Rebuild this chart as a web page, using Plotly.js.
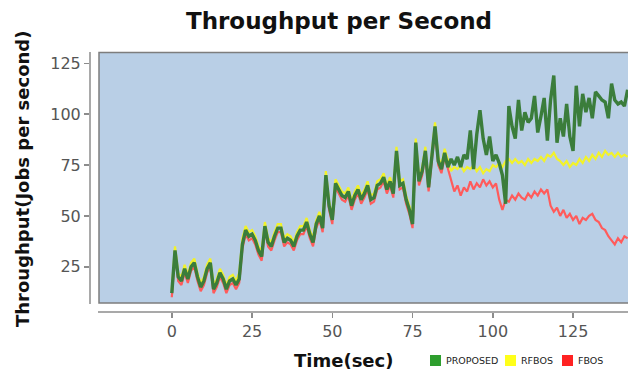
<!DOCTYPE html>
<html>
<head>
<meta charset="utf-8">
<script src="https://cdn.plot.ly/plotly-3.0.1.min.js"></script>
<style>html,body{margin:0;padding:0;background:#fff;}#chart{width:628px;height:371px;}</style>
</head>
<body>
<div id="chart"></div>
<script>
// ---- data ----
const seriesNames = ["PROPOSED", "RFBOS", "FBOS"];
const timeSec = [];
for (let t = 0; t <= 142; t++) timeSec.push(t);

const proposed = [
  12,33,20,18,24,19,25,27,20,15,
  18,24,27,14,17,22,19,14,18,19,
  16,19,36,43,40,41,38,33,30,45,
  37,35,40,44,44,37,39,38,35,40,
  43,43,47,41,37,46,50,44,70,55,
  48,66,63,60,59,62,55,60,63,58,
  61,65,58,59,65,66,69,63,67,61,
  82,65,66,58,53,46,86,67,72,82,
  64,78,94,77,73,81,74,78,75,79,
  74,80,78,92,73,90,102,88,80,89,
  77,80,76,70,56,104,94,88,107,92,
  101,96,98,109,91,99,108,87,107,119,
  86,98,89,105,89,82,114,94,110,101,
  108,98,111,109,107,106,98,115,107,105,
  106,104,112
];
const rfbos = [
  14,35,22,20,26,21,27,29,22,17,
  20,26,29,16,19,24,21,16,20,21,
  18,22,39,45,42,43,40,35,33,47,
  39,37,42,46,46,39,41,40,37,42,
  45,45,49,43,39,48,52,47,72,57,
  50,68,65,62,61,64,57,62,65,60,
  63,67,60,61,67,68,71,65,69,63,
  84,67,68,60,55,49,88,69,74,84,
  66,80,96,79,75,83,77,72,74,73,
  75,72,74,73,75,72,74,71,73,72,
  75,74,76,74,77,78,76,78,76,77,
  75,78,76,78,77,79,77,80,79,81,
  78,77,75,77,74,76,75,78,76,79,
  77,80,78,81,79,82,80,81,79,81,
  79,80,79
];
const fbos = [
  10,31,18,16,22,17,23,25,18,13,
  16,22,25,12,15,20,17,12,16,17,
  14,17,34,41,38,39,36,31,28,43,
  35,33,38,42,42,35,37,36,33,38,
  41,41,45,39,35,44,48,42,68,53,
  46,64,61,58,57,60,53,58,61,56,
  59,63,56,57,63,64,67,61,65,59,
  80,63,64,56,51,44,84,65,70,80,
  62,76,92,75,71,79,73,68,62,65,
  60,64,62,67,63,66,64,68,65,67,
  64,66,58,53,58,57,60,58,61,59,
  58,61,59,62,60,63,61,63,55,52,
  54,50,53,49,51,48,50,46,49,48,
  50,51,48,47,44,43,40,38,36,39,
  37,40,39
];
const xTicks = [0, 25, 50, 75, 100, 125];
const yTicks = [25, 50, 75, 100, 125];

// ---- styles ----
const lineColors = {PROPOSED: "#3b7d3b", RFBOS: "#f2f22a", FBOS: "#ff5b5b"};
const legendColors = {PROPOSED: "#2e9e2e", RFBOS: "#ffff1a", FBOS: "#ff2222"};

// pixel -> paper helpers (plot area: x 90..628, y 52..312)
const L = 90, R = 628, T = 52, B = 312;
const PX = px => (px - L) / (R - L);
const PY = py => (B - py) / (B - T);

const traces = [
  {x: timeSec, y: fbos, name: seriesNames[2], mode: "lines", line: {color: lineColors.FBOS, width: 2.2}, showlegend: false, hoverinfo: "skip"},
  {x: timeSec, y: rfbos, name: seriesNames[1], mode: "lines", line: {color: lineColors.RFBOS, width: 2.2}, showlegend: false, hoverinfo: "skip"},
  {x: timeSec, y: proposed, name: seriesNames[0], mode: "lines", line: {color: lineColors.PROPOSED, width: 3.4}, showlegend: false, hoverinfo: "skip"}
];

const axisGray = "#8c8c8c";
const shapes = [
  // plot background panel
  {type: "rect", xref: "paper", yref: "paper", x0: PX(99), x1: PX(629), y0: PY(303), y1: PY(52.5),
   fillcolor: "#b9cfe6", line: {color: "#7d7d7d", width: 1.5}, layer: "below"},
  // offset y axis line
  {type: "line", xref: "paper", yref: "paper", x0: 0, x1: 0, y0: PY(304), y1: PY(52), line: {color: axisGray, width: 1.5}},
  // offset x axis line
  {type: "line", xref: "paper", yref: "paper", x0: PX(98), x1: 1, y0: 0, y1: 0, line: {color: axisGray, width: 1.5}}
];
const annotations = [
  {text: "<b>Throughput(Jobs per second)</b>", xref: "paper", yref: "paper", x: PX(22), y: PY(179), textangle: -90,
   showarrow: false, xanchor: "center", yanchor: "middle", font: {family: "DejaVu Sans", size: 18, color: "#111"}},
  {text: "<b>Time(sec)</b>", xref: "paper", yref: "paper", x: PX(343), y: PY(360), showarrow: false,
   xanchor: "center", yanchor: "middle", font: {family: "DejaVu Sans", size: 18, color: "#111"}}
];

// legend (squares + labels)
const legendX = [430, 505, 562];
seriesNames.forEach((n, i) => {
  const x0 = legendX[i];
  shapes.push({type: "rect", xref: "paper", yref: "paper", x0: PX(x0), x1: PX(x0 + 11), y0: PY(366), y1: PY(355),
    fillcolor: legendColors[n], line: {width: 0}});
  annotations.push({text: n, xref: "paper", yref: "paper", x: PX(x0 + 14), y: PY(360.5), showarrow: false,
    xanchor: "left", yanchor: "middle", font: {family: "DejaVu Sans", size: 9.5, color: "#222"}});
});

const layout = {
  width: 628, height: 371,
  margin: {l: L, r: 628 - R, t: T, b: 371 - B, pad: 0},
  paper_bgcolor: "#ffffff", plot_bgcolor: "rgba(0,0,0,0)",
  showlegend: false,
  title: {text: "<b>Throughput per Second</b>", xref: "container", yref: "container", x: 339 / 628, y: 1 - 21 / 371,
          xanchor: "center", yanchor: "middle", font: {family: "DejaVu Sans", size: 23, color: "#111"}},
  xaxis: {range: [(90 - 171.8) / 3.21, (628 - 171.8) / 3.21], tickvals: xTicks, ticktext: xTicks.map(String),
          showgrid: false, zeroline: false, showline: false, ticks: "outside", ticklen: 5, tickwidth: 1.5,
          tickcolor: axisGray, tickfont: {family: "DejaVu Sans", size: 16, color: "#555"}, fixedrange: true},
  yaxis: {range: [(317.6 - 312) / 2.034, (317.6 - 52) / 2.034], tickvals: yTicks, ticktext: yTicks.map(String),
          showgrid: false, zeroline: false, showline: false, ticks: "outside", ticklen: 5, tickwidth: 1.5,
          tickcolor: axisGray, tickfont: {family: "DejaVu Sans", size: 16, color: "#555"}, fixedrange: true},
  shapes: shapes,
  annotations: annotations
};

Plotly.newPlot("chart", traces, layout, {displayModeBar: false, staticPlot: true});
</script>
</body>
</html>
